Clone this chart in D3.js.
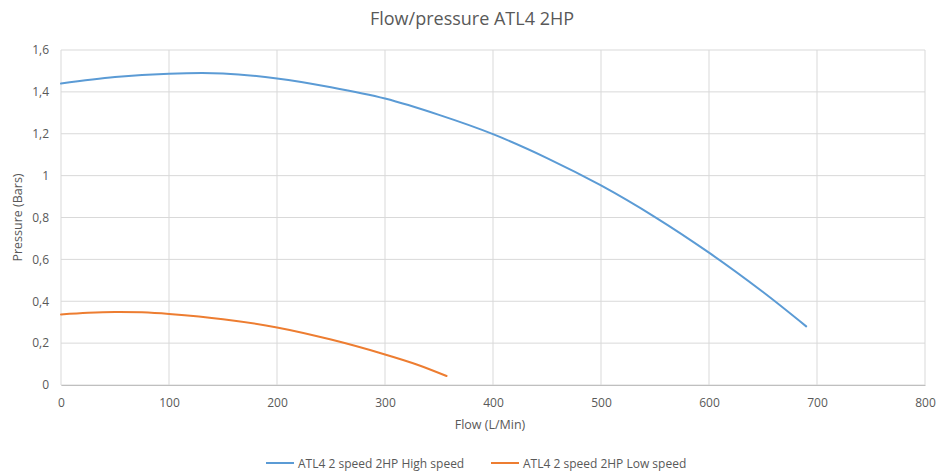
<!DOCTYPE html>
<html><head><meta charset="utf-8">
<script src="https://cdn.jsdelivr.net/npm/d3@7"></script>
<style>
html,body{margin:0;padding:0;background:#fff;}
text{font-family:"Open Sans","Noto Sans",sans-serif;}
</style></head>
<body><svg id="c" width="944" height="473"></svg>
<script>
const highFlow = [0, 50, 100, 150, 200, 250, 300, 350, 400, 450, 500, 550, 600, 650, 690];
const highPressure = [1.44, 1.471, 1.487, 1.488, 1.464, 1.422, 1.368, 1.29, 1.198, 1.084, 0.953, 0.802, 0.632, 0.444, 0.28];
const lowFlow = [0, 25, 50, 75, 100, 150, 200, 250, 300, 330, 357];
const lowPressure = [0.337, 0.345, 0.349, 0.347, 0.339, 0.314, 0.275, 0.217, 0.146, 0.097, 0.043];
const xTicks = [0, 100, 200, 300, 400, 500, 600, 700, 800];
const yTicks = [0, 0.2, 0.4, 0.6, 0.8, 1, 1.2, 1.4, 1.6];
const seriesNames = ["ATL4 2 speed 2HP High speed", "ATL4 2 speed 2HP Low speed"];
const seriesColors = ["#5B9BD5", "#ED7D31"];

const svg = d3.select("#c");
const L = 61, R = 925, T = 50, B = 385;
const x = d3.scaleLinear().domain([0, 800]).range([L, R]);
const y = d3.scaleLinear().domain([0, 1.6]).range([B, T]);
const txt = "#595959", grid = "#d9d9d9";

// gridlines
svg.append("g").selectAll("line").data(yTicks).join("line")
  .attr("x1", L).attr("x2", R).attr("y1", d => y(d)).attr("y2", d => y(d))
  .attr("stroke", grid).attr("stroke-width", 1);
svg.append("g").selectAll("line").data(xTicks).join("line")
  .attr("x1", d => x(d)).attr("x2", d => x(d)).attr("y1", T).attr("y2", B)
  .attr("stroke", grid).attr("stroke-width", 1);

// axes
const fmt = d => d3.format("~g")(d).replace(".", ",");
const xa = svg.append("g").attr("transform", `translate(0,${B})`)
  .call(d3.axisBottom(x).tickValues(xTicks).tickSize(0).tickPadding(13).tickFormat(d3.format("d")));
xa.select(".domain").attr("stroke", "#bfbfbf");
const ya = svg.append("g").attr("transform", `translate(${L},0)`)
  .call(d3.axisLeft(y).tickValues(yTicks).tickSize(0).tickPadding(12).tickFormat(fmt));
ya.select(".domain").remove();
svg.selectAll(".tick text").attr("fill", txt).attr("font-size", 12)
  .attr("font-family", "'Open Sans','Noto Sans',sans-serif");

// lines
const line = d3.line().x(d => x(d[0])).y(d => y(d[1])).curve(d3.curveCatmullRom.alpha(0.5));
const hi = highFlow.map((f, i) => [f, highPressure[i]]);
const lo = lowFlow.map((f, i) => [f, lowPressure[i]]);
[hi, lo].forEach((data, i) => {
  svg.append("path").datum(data).attr("d", line).attr("fill", "none")
    .attr("stroke", seriesColors[i]).attr("stroke-width", 2).attr("stroke-linecap", "round");
});

// title
svg.append("text").attr("x", 472).attr("y", 25).attr("text-anchor", "middle")
  .attr("fill", txt).attr("font-size", 18).text("Flow/pressure ATL4 2HP");
// axis titles
svg.append("text").attr("x", 490).attr("y", 429).attr("text-anchor", "middle")
  .attr("fill", txt).attr("font-size", 12.5).text("Flow (L/Min)");
svg.append("text").attr("transform", `translate(22,${(T + B) / 2}) rotate(-90)`)
  .attr("text-anchor", "middle").attr("fill", txt).attr("font-size", 12.5).text("Pressure (Bars)");

// legend
const lx = [266, 491];
seriesNames.forEach((n, i) => {
  svg.append("line").attr("x1", lx[i]).attr("x2", lx[i] + 28).attr("y1", 463).attr("y2", 463)
    .attr("stroke", seriesColors[i]).attr("stroke-width", 2);
  svg.append("text").attr("x", lx[i] + 32).attr("y", 467.5).attr("fill", txt)
    .attr("font-size", 12).text(n);
});
</script></body></html>
